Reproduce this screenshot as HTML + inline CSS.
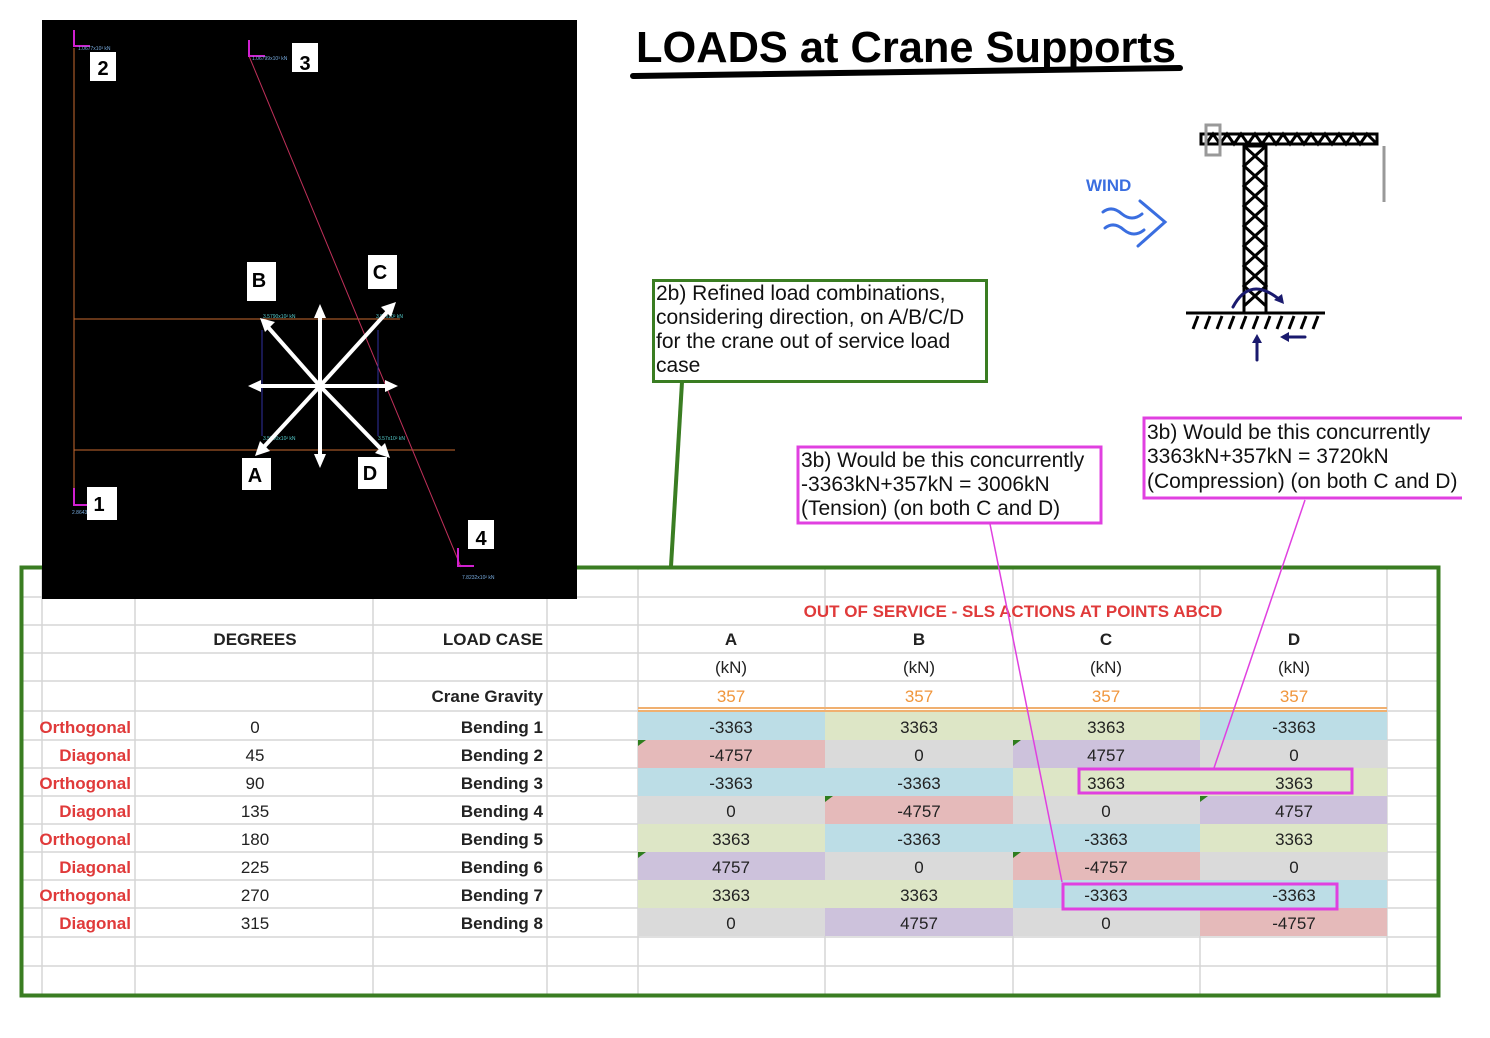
<!DOCTYPE html>
<html><head><meta charset="utf-8"><style>
html,body{margin:0;padding:0;background:#fff;width:1490px;height:1038px;overflow:hidden}
svg{display:block}
.t{font-family:"Liberation Sans Narrow","Liberation Sans",sans-serif;font-size:17px;fill:#222}
.b{font-weight:bold}
.r{fill:#e03a3a;font-weight:bold}
.n{font-family:"Liberation Sans",sans-serif;font-size:21px;fill:#111}
</style></head><body>
<svg width="1490" height="1038" viewBox="0 0 1490 1038" xmlns="http://www.w3.org/2000/svg">
<g stroke="#d6d6d6" stroke-width="1.5">
<line x1="42" y1="567" x2="42" y2="995"/><line x1="135" y1="567" x2="135" y2="995"/>
<line x1="373" y1="567" x2="373" y2="995"/><line x1="547" y1="567" x2="547" y2="995"/>
<line x1="638" y1="567" x2="638" y2="995"/><line x1="825" y1="567" x2="825" y2="995"/>
<line x1="1013" y1="567" x2="1013" y2="995"/><line x1="1200" y1="567" x2="1200" y2="995"/>
<line x1="1387" y1="567" x2="1387" y2="995"/>
<line x1="22" y1="597" x2="1438" y2="597"/><line x1="22" y1="625" x2="1438" y2="625"/>
<line x1="22" y1="653" x2="1438" y2="653"/><line x1="22" y1="681" x2="1438" y2="681"/>
<line x1="22" y1="711" x2="1438" y2="711"/><line x1="22" y1="740" x2="1438" y2="740"/>
<line x1="22" y1="768" x2="1438" y2="768"/><line x1="22" y1="796" x2="1438" y2="796"/>
<line x1="22" y1="824" x2="1438" y2="824"/><line x1="22" y1="852" x2="1438" y2="852"/>
<line x1="22" y1="880" x2="1438" y2="880"/><line x1="22" y1="908" x2="1438" y2="908"/>
<line x1="22" y1="937" x2="1438" y2="937"/><line x1="22" y1="966" x2="1438" y2="966"/>
</g>
<g>
<rect x="638" y="712" width="187" height="28" fill="#bcdde6"/><rect x="825" y="712" width="188" height="28" fill="#dde6c6"/><rect x="1013" y="712" width="187" height="28" fill="#dde6c6"/><rect x="1200" y="712" width="187" height="28" fill="#bcdde6"/>
<rect x="638" y="740" width="187" height="28" fill="#e5baba"/><rect x="825" y="740" width="188" height="28" fill="#dadada"/><rect x="1013" y="740" width="187" height="28" fill="#cdc2dc"/><rect x="1200" y="740" width="187" height="28" fill="#dadada"/>
<rect x="638" y="768" width="187" height="28" fill="#bcdde6"/><rect x="825" y="768" width="188" height="28" fill="#bcdde6"/><rect x="1013" y="768" width="187" height="28" fill="#dde6c6"/><rect x="1200" y="768" width="187" height="28" fill="#dde6c6"/>
<rect x="638" y="796" width="187" height="28" fill="#dadada"/><rect x="825" y="796" width="188" height="28" fill="#e5baba"/><rect x="1013" y="796" width="187" height="28" fill="#dadada"/><rect x="1200" y="796" width="187" height="28" fill="#cdc2dc"/>
<rect x="638" y="824" width="187" height="28" fill="#dde6c6"/><rect x="825" y="824" width="188" height="28" fill="#bcdde6"/><rect x="1013" y="824" width="187" height="28" fill="#bcdde6"/><rect x="1200" y="824" width="187" height="28" fill="#dde6c6"/>
<rect x="638" y="852" width="187" height="28" fill="#cdc2dc"/><rect x="825" y="852" width="188" height="28" fill="#dadada"/><rect x="1013" y="852" width="187" height="28" fill="#e5baba"/><rect x="1200" y="852" width="187" height="28" fill="#dadada"/>
<rect x="638" y="880" width="187" height="28" fill="#dde6c6"/><rect x="825" y="880" width="188" height="28" fill="#dde6c6"/><rect x="1013" y="880" width="187" height="28" fill="#bcdde6"/><rect x="1200" y="880" width="187" height="28" fill="#bcdde6"/>
<rect x="638" y="908" width="187" height="28" fill="#dadada"/><rect x="825" y="908" width="188" height="28" fill="#cdc2dc"/><rect x="1013" y="908" width="187" height="28" fill="#dadada"/><rect x="1200" y="908" width="187" height="28" fill="#e5baba"/>
</g>
<g fill="#2e7d1e">
<polygon points="638,740 646,740 638,746"/><polygon points="1013,740 1021,740 1013,746"/>
<polygon points="825,796 833,796 825,802"/><polygon points="1200,796 1208,796 1200,802"/>
<polygon points="638,852 646,852 638,858"/><polygon points="1013,852 1021,852 1013,858"/>
</g>
<line x1="638" y1="708" x2="1387" y2="708" stroke="#f0b070" stroke-width="2"/>
<line x1="638" y1="711" x2="1387" y2="711" stroke="#f0b070" stroke-width="2"/>
<text x="1013" y="617" text-anchor="middle" class="t b" style="fill:#e03a3a">OUT OF SERVICE - SLS ACTIONS AT POINTS ABCD</text>
<g class="t b" text-anchor="middle">
<text x="255" y="645">DEGREES</text>
<text x="731" y="645">A</text><text x="919" y="645">B</text><text x="1106" y="645">C</text><text x="1294" y="645">D</text>
</g>
<g class="t" text-anchor="middle">
<text x="731" y="673">(kN)</text><text x="919" y="673">(kN)</text><text x="1106" y="673">(kN)</text><text x="1294" y="673">(kN)</text>
</g>
<g class="t" text-anchor="middle">
<text x="731" y="702" style="fill:#f0963c">357</text><text x="919" y="702" style="fill:#f0963c">357</text><text x="1106" y="702" style="fill:#f0963c">357</text><text x="1294" y="702" style="fill:#f0963c">357</text>
</g>
<g class="t b" text-anchor="end">
<text x="543" y="645">LOAD CASE</text>
<text x="543" y="702">Crane Gravity</text>
<text x="543" y="733">Bending 1</text><text x="543" y="761">Bending 2</text><text x="543" y="789">Bending 3</text><text x="543" y="817">Bending 4</text>
<text x="543" y="845">Bending 5</text><text x="543" y="873">Bending 6</text><text x="543" y="901">Bending 7</text><text x="543" y="929">Bending 8</text>
</g>
<g class="t r" text-anchor="end">
<text x="131" y="733" style="fill:#e03a3a">Orthogonal</text><text x="131" y="761" style="fill:#e03a3a">Diagonal</text>
<text x="131" y="789" style="fill:#e03a3a">Orthogonal</text><text x="131" y="817" style="fill:#e03a3a">Diagonal</text>
<text x="131" y="845" style="fill:#e03a3a">Orthogonal</text><text x="131" y="873" style="fill:#e03a3a">Diagonal</text>
<text x="131" y="901" style="fill:#e03a3a">Orthogonal</text><text x="131" y="929" style="fill:#e03a3a">Diagonal</text>
</g>
<g class="t" text-anchor="middle">
<text x="255" y="733">0</text><text x="255" y="761">45</text><text x="255" y="789">90</text><text x="255" y="817">135</text>
<text x="255" y="845">180</text><text x="255" y="873">225</text><text x="255" y="901">270</text><text x="255" y="929">315</text>
<text x="731" y="733">-3363</text><text x="919" y="733">3363</text><text x="1106" y="733">3363</text><text x="1294" y="733">-3363</text>
<text x="731" y="761">-4757</text><text x="919" y="761">0</text><text x="1106" y="761">4757</text><text x="1294" y="761">0</text>
<text x="731" y="789">-3363</text><text x="919" y="789">-3363</text><text x="1106" y="789">3363</text><text x="1294" y="789">3363</text>
<text x="731" y="817">0</text><text x="919" y="817">-4757</text><text x="1106" y="817">0</text><text x="1294" y="817">4757</text>
<text x="731" y="845">3363</text><text x="919" y="845">-3363</text><text x="1106" y="845">-3363</text><text x="1294" y="845">3363</text>
<text x="731" y="873">4757</text><text x="919" y="873">0</text><text x="1106" y="873">-4757</text><text x="1294" y="873">0</text>
<text x="731" y="901">3363</text><text x="919" y="901">3363</text><text x="1106" y="901">-3363</text><text x="1294" y="901">-3363</text>
<text x="731" y="929">0</text><text x="919" y="929">4757</text><text x="1106" y="929">0</text><text x="1294" y="929">-4757</text>
</g>
<rect x="21.5" y="567.5" width="1417" height="428" fill="none" stroke="#3a7d22" stroke-width="4"/>
<rect x="42" y="20" width="535" height="579" fill="#000"/>
<g stroke-width="1">
<line x1="74" y1="48" x2="74" y2="498" stroke="#c86a30"/>
<line x1="74" y1="319" x2="400" y2="319" stroke="#c86a30"/>
<line x1="74" y1="450" x2="455" y2="450" stroke="#c86a30"/>
<line x1="249" y1="56" x2="461" y2="567" stroke="#c0305a"/>
<line x1="262" y1="330" x2="262" y2="436" stroke="#3030a0"/>
<line x1="378" y1="330" x2="378" y2="436" stroke="#3030a0"/>
</g>
<g stroke="#d020d0" stroke-width="2" fill="none">
<path d="M74 30 V46 H90"/><path d="M249 40 V56 H265"/><path d="M74 488 V505 H90"/><path d="M458 548 V566 H474"/>
</g>
<g font-family="Liberation Sans,sans-serif" font-size="5" fill="#7ad">
<text x="78" y="50">1.0677x10³ kN</text><text x="252" y="60">1.06799x10³ kN</text>
<text x="72" y="514">2.8643</text><text x="462" y="579">7.8232x10² kN</text>
<text x="263" y="318" fill="#5cc">3.5790x10² kN</text><text x="376" y="318" fill="#5cc">3.57x10² kN</text>
<text x="263" y="440" fill="#5cc">3.5790x10² kN</text><text x="378" y="440" fill="#5cc">3.57x10² kN</text>
</g>
<g stroke="#fff" stroke-width="4" fill="#fff">
<line x1="320" y1="386" x2="320" y2="314"/><line x1="320" y1="386" x2="320" y2="460"/>
<line x1="320" y1="386" x2="256" y2="386"/><line x1="320" y1="386" x2="390" y2="386"/>
<line x1="320" y1="386" x2="267" y2="326"/><line x1="320" y1="386" x2="389" y2="310"/>
<line x1="320" y1="386" x2="262" y2="449"/><line x1="320" y1="386" x2="382" y2="450"/>
</g>
<g fill="#fff">
<polygon points="320,304 314,318 326,318"/><polygon points="320,468 314,454 326,454"/>
<polygon points="248,386 261,380 261,392"/><polygon points="398,386 385,380 385,392"/>
<polygon points="260,318 275,322 265,332"/><polygon points="396,302 381,307 391,317"/>
<polygon points="255,456 260,441 270,451"/><polygon points="390,458 375,453 385,443"/>
</g>
<g font-family="Liberation Sans,sans-serif" font-weight="bold" font-size="20" text-anchor="middle">
<rect x="90" y="52" width="26" height="29" fill="#fff"/><text x="103" y="75">2</text>
<rect x="292" y="43" width="26" height="29" fill="#fff"/><text x="305" y="70">3</text>
<rect x="87" y="487" width="30" height="33" fill="#fff"/><text x="99" y="511">1</text>
<rect x="468" y="520" width="26" height="29" fill="#fff"/><text x="481" y="545">4</text>
<rect x="247" y="262" width="29" height="39" fill="#fff"/><text x="259" y="287">B</text>
<rect x="368" y="255" width="29" height="34" fill="#fff"/><text x="380" y="279">C</text>
<rect x="242" y="458" width="29" height="32" fill="#fff"/><text x="255" y="482">A</text>
<rect x="358" y="457" width="29" height="32" fill="#fff"/><text x="370" y="480">D</text>
</g>
<text x="636" y="62" font-family="Liberation Sans,sans-serif" font-weight="bold" font-size="44" fill="#000" textLength="540" lengthAdjust="spacingAndGlyphs">LOADS at Crane Supports</text>
<path d="M633 76 L1180 68" stroke="#000" stroke-width="6" stroke-linecap="round"/>
<rect x="653.5" y="280.5" width="333" height="101" fill="#fff" stroke="#3a7d22" stroke-width="3"/>
<g class="n"><text x="656" y="300">2b) Refined load combinations,</text><text x="656" y="324">considering direction, on A/B/C/D</text><text x="656" y="348">for the crane out of service load</text><text x="656" y="372">case</text></g>
<line x1="682" y1="382" x2="671" y2="566" stroke="#3a7d22" stroke-width="4"/>
<g stroke="#e040e0" fill="none">
<line x1="990" y1="524" x2="1062" y2="882" stroke-width="1.5"/>
<line x1="1305" y1="500" x2="1214" y2="768" stroke-width="1.5"/>
<rect x="1079" y="769" width="273" height="24" stroke-width="3"/>
<rect x="1063" y="884" width="274" height="25" stroke-width="3"/>
</g>
<rect x="798" y="447" width="303" height="76" fill="#fff" stroke="#e040e0" stroke-width="3"/>
<g class="n"><text x="801" y="467">3b) Would be this concurrently</text><text x="801" y="491">-3363kN+357kN = 3006kN</text><text x="801" y="515">(Tension) (on both C and D)</text></g>
<path d="M1462 418 H1144 V498 H1462" fill="#fff" stroke="#e040e0" stroke-width="3"/>
<g class="n"><text x="1147" y="439">3b) Would be this concurrently</text><text x="1147" y="463">3363kN+357kN = 3720kN</text><text x="1147" y="488">(Compression) (on both C and D)</text></g>
<g stroke="#000" stroke-width="3" fill="none">
<rect x="1201" y="134" width="176" height="10" stroke-width="3"/>
<path d="M1206 144 L1213 134 L1220 144 L1227 134 L1234 144 L1241 134 L1248 144 L1255 134 L1262 144 L1269 134 L1276 144 L1283 134 L1290 144 L1297 134 L1304 144 L1311 134 L1318 144 L1325 134 L1332 144 L1339 134 L1346 144 L1353 134 L1360 144 L1367 134 L1377 144"/>
<rect x="1244" y="146" width="22" height="167"/>
<path d="M1244 146 L1266 166 L1244 186 L1266 206 L1244 226 L1266 246 L1244 266 L1266 286 L1244 306 M1266 146 L1244 166 L1266 186 L1244 206 L1266 226 L1244 246 L1266 266 L1244 286 L1266 306"/>
<line x1="1186" y1="313" x2="1325" y2="313"/>
<path d="M1198 316 l-5 13 M1210 316 l-5 13 M1222 316 l-5 13 M1234 316 l-5 13 M1246 316 l-5 13 M1258 316 l-5 13 M1270 316 l-5 13 M1282 316 l-5 13 M1294 316 l-5 13 M1306 316 l-5 13 M1318 316 l-5 13"/>
</g>
<rect x="1206" y="125" width="14" height="30" fill="none" stroke="#999" stroke-width="3"/>
<line x1="1384" y1="146" x2="1384" y2="202" stroke="#999" stroke-width="3"/>
<g stroke="#1a1a6e" stroke-width="3" fill="none" stroke-linecap="round">
<path d="M1233 307 Q1250 275 1280 300"/>
<line x1="1257" y1="360" x2="1257" y2="338"/>
<line x1="1305" y1="337" x2="1285" y2="337"/>
</g>
<g fill="#1a1a6e"><polygon points="1284,304 1274,300 1282,294"/><polygon points="1257,334 1252,343 1262,343"/><polygon points="1280,337 1289,332 1289,342"/></g>
<text x="1086" y="191" font-family="Liberation Sans,sans-serif" font-weight="bold" font-size="17" fill="#3a6ee0">WIND</text>
<g stroke="#3a6ee0" stroke-width="3" fill="none" stroke-linecap="round">
<path d="M1103 212 Q1112 205 1122 214 Q1132 222 1142 214"/>
<path d="M1105 228 Q1114 221 1124 230 Q1134 238 1144 230"/>
<path d="M1140 201 L1165 222 L1138 246"/>
</g>
</svg>
</body></html>
